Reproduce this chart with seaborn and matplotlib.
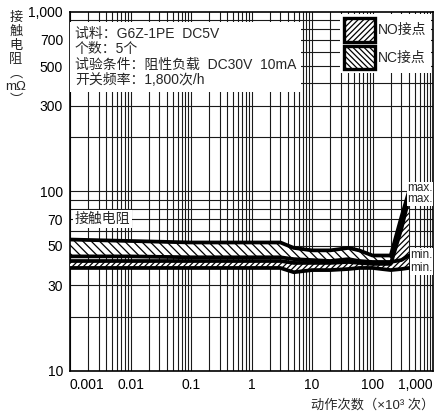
import numpy as np
import pandas as pd
import seaborn as sns
import matplotlib.pyplot as plt
from matplotlib.patches import Patch

# operations (x10^3) and contact resistance (mOhm)
cycles = [0.001, 0.01, 0.1, 1, 3, 5, 10, 20, 40, 60, 100, 200, 300, 400]
nc_max = [54, 53, 52, 52, 52, 48.5, 47, 47, 48.5, 47, 44, 44, 72, 100]
nc_min = [43.5, 43.5, 43, 43, 43, 42, 41.5, 41, 42, 41, 40.5, 40.5, 41.5, 44]
no_max = [41, 41, 41, 41, 41, 40, 40, 40, 40.5, 40, 39.5, 39.5, 62, 92]
no_min = [37.5, 37.5, 37.5, 37.5, 37.5, 35.5, 36.5, 36.5, 37, 37.5, 37.5, 36.5, 37, 37.5]

xticks = [0.001, 0.01, 0.1, 1, 10, 100, 1000]
xticklabels = ['0.001', '0.01', '0.1', '1', '10', '100', '1,000']
yticks = [10, 30, 50, 70, 100, 300, 500, 700, 1000]
yticklabels = ['10', '30', '50', '70', '100', '300', '500', '700', '1,000']

sns.set_style('white')
plt.rcParams['font.family'] = ['Liberation Sans', 'Noto Sans CJK SC', 'DejaVu Sans']
plt.rcParams['hatch.linewidth'] = 0.9

df = pd.DataFrame({
    'cycles': cycles * 4,
    'r': nc_max + nc_min + no_max + no_min,
    'line': ['nc_max'] * len(cycles) + ['nc_min'] * len(cycles)
            + ['no_max'] * len(cycles) + ['no_min'] * len(cycles),
})

fig = plt.figure(figsize=(4.37, 4.15), dpi=100)
ax = fig.add_axes([70 / 437, 1 - 371 / 415, 363 / 437, 359 / 415])

ax.set_xscale('log')
ax.set_yscale('log')
ax.set_xlim(0.001, 1000)
ax.set_ylim(10, 1000)

# grid
for d in [0.001, 0.01, 0.1, 1, 10, 100]:
    for m in range(1, 10):
        ax.axvline(d * m, color='#1a1a1a', lw=0.8, zorder=1)
for d in [10, 100]:
    for m in range(1, 10):
        ax.axhline(d * m, color='#1a1a1a', lw=0.8, zorder=1)

ax.fill_between(cycles, nc_min, nc_max, facecolor='white', edgecolor='black',
                hatch='\\\\\\\\', lw=0, zorder=2)
ax.fill_between(cycles, no_min, no_max, facecolor='white', edgecolor='black',
                hatch='//////', lw=0, zorder=3)
sns.lineplot(data=df, x='cycles', y='r', units='line', estimator=None,
             color='black', lw=2.7, ax=ax, zorder=4)

ax.set_xticks(xticks)
ax.set_xticklabels(xticklabels)
ax.set_yticks(yticks)
ax.set_yticklabels(yticklabels)
ax.minorticks_off()
ax.tick_params(length=0, labelsize=10, pad=5, colors='black')
xl = ax.get_xticklabels()
xl[0].set_ha('left')
xl[-1].set_ha('right')
ax.set_xlabel('')
ax.set_ylabel('')
for s in ax.spines.values():
    s.set_color('black')
    s.set_linewidth(1.2)

# info box
ax.text(0.0012, 830,
        '试料：G6Z-1PE  DC5V\n个数：5个\n试验条件：阻性负载  DC30V  10mA\n开关频率：1,800次/h',
        fontsize=10, va='top', ha='left', linespacing=1.15, zorder=6,
        bbox=dict(facecolor='white', edgecolor='none', pad=3.5))

handles = [Patch(facecolor='white', edgecolor='black', hatch='//////', lw=2.4, label='NO接点'),
           Patch(facecolor='white', edgecolor='black', hatch='\\\\\\\\\\\\', lw=2.4, label='NC接点')]
leg = ax.legend(handles=handles, loc='upper right', fontsize=10, frameon=True,
                handlelength=2.2, handleheight=2.2, labelspacing=0.3,
                handletextpad=0.25, borderpad=0.3, borderaxespad=0.15, fancybox=False)
leg.get_frame().set_edgecolor('none')
leg.get_frame().set_facecolor('white')
leg.get_frame().set_alpha(1)
leg.set_zorder(7)

ax.text(0.0012, 70, '接触电阻', fontsize=10, va='center', ha='left', zorder=6,
        bbox=dict(facecolor='white', edgecolor='none', pad=1.5))

for lab, yv in [('max.', 104), ('max.', 90.5), ('min.', 44.5), ('min.', 37.5)]:
    ax.text(995, yv, lab, fontsize=8.5, va='center', ha='right', zorder=6,
            bbox=dict(facecolor='white', edgecolor='none', pad=0.4))

fig.text(16 / 437, 1 - 12 / 415, '接\n触\n电\n阻\n︵\nmΩ\n︶', fontsize=9.5,
         ha='center', va='top', linespacing=1.2)
fig.text(434 / 437, 1 - 405 / 415, '动作次数（×10³ 次）', fontsize=9.5,
         ha='right', va='center')

fig.savefig('out.png', dpi=100)
